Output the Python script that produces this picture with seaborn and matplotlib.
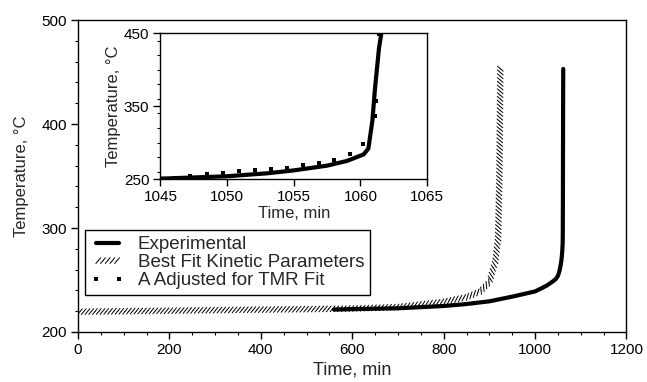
import numpy as np
import pandas as pd
import matplotlib
matplotlib.use("Agg")
import matplotlib.pyplot as plt
import matplotlib.patheffects as pe
from matplotlib.ticker import MultipleLocator
import seaborn as sns

# --- data ---

# Experimental temperature trace (main plot + inset)
exp_time = [560, 600, 700, 800, 850, 900, 950, 1000, 1025, 1040,
            1045.5, 1050, 1053, 1055, 1057.5, 1059, 1060.25, 1060.6,
            1060.9, 1061.1, 1061.4, 1061.6]
exp_temp = [221.6, 222.0, 222.8, 225.0, 226.9, 229.5, 234.0,
            239.0, 244.5, 249.0, 251.0, 254.0, 258.0, 262.0, 268.5, 275.0,
            284.0, 292.0, 330.0, 375.0, 430.0, 453.0]

# Best fit kinetic parameters (hatched line)
fit_time = [0, 200, 400, 600, 700, 800, 850, 880, 900, 913, 919, 922, 924]
fit_temp = [219.5, 220.5, 221.5, 222.5, 224.0, 229.0, 233.5, 239.0, 248.0,
            268.0, 290.0, 350.0, 455.0]

# A adjusted for TMR fit (square dots, visible in the inset)
adj_time = [1046.0, 1047.25, 1048.5, 1049.7, 1050.9, 1052.1, 1053.3, 1054.5,
            1055.7, 1056.9, 1058.05, 1059.2, 1060.2, 1061.1, 1061.2, 1061.4]
adj_temp = [251.8, 254.6, 256.4, 258.7, 260.6, 262.0, 263.8, 265.6, 268.9,
            272.5, 276.6, 285.0, 297.8, 337.0, 357.6, 448.6]

labels = ["Experimental", "Best Fit Kinetic Parameters", "A Adjusted for TMR Fit"]

exp_df = pd.DataFrame({"time": exp_time, "temp": exp_temp})
fit_df = pd.DataFrame({"time": fit_time, "temp": fit_temp})
adj_df = pd.DataFrame({"time": adj_time, "temp": adj_temp})

# --- style ---
sns.set_theme(style="ticks")
plt.rcParams["font.family"] = ["Liberation Sans", "DejaVu Sans"]
plt.rcParams.update({
    "axes.edgecolor": "black",
    "axes.linewidth": 1.0,
    "xtick.color": "black",
    "ytick.color": "black",
    "xtick.direction": "out",
    "ytick.direction": "out",
    "xtick.major.size": 5,
    "ytick.major.size": 5,
    "xtick.minor.size": 2.5,
    "ytick.minor.size": 2.5,
    "xtick.major.width": 1.0,
    "ytick.major.width": 1.0,
    "xtick.minor.width": 0.8,
    "ytick.minor.width": 0.8,
    "xtick.major.pad": 3,
    "ytick.major.pad": 3,
})

# hatched look: short diagonal ticks on both sides of the path
hatch = [pe.TickedStroke(spacing=2.7, angle=50, length=1.0),
         pe.TickedStroke(spacing=2.7, angle=-130, length=1.0)]

fig = plt.figure(figsize=(6.47, 3.82), dpi=100)
ax = fig.add_axes([0.1206, 0.1309, 0.8477, 0.8167])

sns.lineplot(data=exp_df, x="time", y="temp", ax=ax, color="black", lw=3.0,
             estimator=None, sort=False, label=labels[0], zorder=2,
             solid_capstyle="round")
sns.lineplot(data=fit_df, x="time", y="temp", ax=ax, color="black", lw=0.7,
             estimator=None, sort=False, label=labels[1], zorder=3)
ax.lines[-1].set_path_effects(hatch)

ax.set_xlim(0, 1200)
ax.set_ylim(200, 500)
ax.xaxis.set_major_locator(MultipleLocator(200))
ax.xaxis.set_minor_locator(MultipleLocator(50))
ax.yaxis.set_major_locator(MultipleLocator(100))
ax.yaxis.set_minor_locator(MultipleLocator(20))
ax.tick_params(labelsize=11)
ax.set_xlabel("Time, min", fontsize=13, labelpad=3)
ax.set_ylabel("Temperature, °C", fontsize=12, labelpad=9)
for s in ax.spines.values():
    s.set_visible(True)

# --- inset ---
ax_in = fig.add_axes([0.248, 0.531, 0.412, 0.382])
ax_in.set_facecolor("white")
sns.lineplot(data=exp_df, x="time", y="temp", ax=ax_in, color="black", lw=3.0,
             estimator=None, sort=False, zorder=2)
sns.lineplot(data=adj_df, x="time", y="temp", ax=ax_in, color="black",
             linestyle="none", marker="s", markersize=3.4, markeredgewidth=0,
             estimator=None, sort=False, zorder=3)
adj_line = ax_in.lines[-1]
ax_in.set_xlim(1045, 1065)
ax_in.set_ylim(250, 450)
ax_in.xaxis.set_major_locator(MultipleLocator(5))
ax_in.set_yticks([250, 350, 450])
ax_in.yaxis.set_minor_locator(MultipleLocator(20))
ax_in.tick_params(labelsize=11)
ax_in.set_xlabel("Time, min", fontsize=12, labelpad=1)
ax_in.set_ylabel("Temperature, °C", fontsize=12, labelpad=2)
for s in ax_in.spines.values():
    s.set_visible(True)

handles = [ax.lines[0], ax.lines[1], adj_line]
ax.legend(handles, labels, loc="lower left", bbox_to_anchor=(0.013, 0.119),
          borderaxespad=0, fontsize=13.5, frameon=True, fancybox=False,
          edgecolor="black", framealpha=1, numpoints=2, handlelength=1.8,
          handletextpad=0.7, labelspacing=0.05, borderpad=0.3)
ax.get_legend().get_frame().set_linewidth(1.0)

fig.savefig("out.png", dpi=100)
